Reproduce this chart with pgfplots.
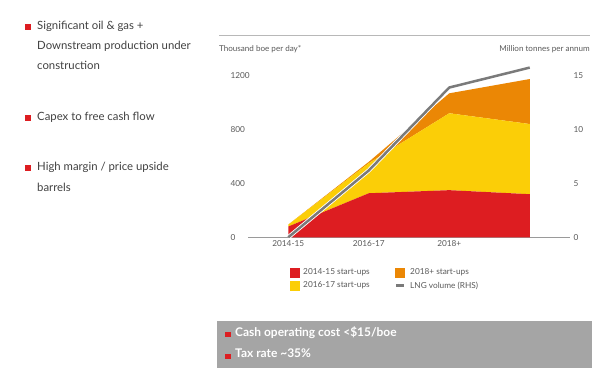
\documentclass[border=0pt]{standalone}
\usepackage{pgfplots}
\pgfplotsset{compat=1.18}
\usepackage{fontspec}
\setmainfont{Lato}
\definecolor{shred}{HTML}{DD1D21}
\definecolor{shyellow}{HTML}{FBCE07}
\definecolor{shorange}{HTML}{EB8705}
\definecolor{lnggray}{HTML}{7A7A7A}
\definecolor{txtgray}{HTML}{404040}
\definecolor{ticktext}{HTML}{595959}
\definecolor{axisgray}{HTML}{9A9A9A}
\definecolor{boxgray}{HTML}{A5A5A5}
\begin{document}
\begin{tikzpicture}[x=1bp,y=1bp]
\path[use as bounding box] (0,0) rectangle (600,373);
% top rule and axis titles
\draw[color=axisgray!70, line width=0.7bp] (219,338) -- (590,338);
\node[anchor=west, inner sep=0, text=ticktext, font=\fontsize{8.1}{9}\selectfont] at (219,324) {Thousand boe per day*};
\node[anchor=east, inner sep=0, text=ticktext, font=\fontsize{8.1}{9}\selectfont] at (590,324) {Million tonnes per annum};
\begin{axis}[
  at={(248bp,135.7bp)}, anchor=south west,
  scale only axis, width=322bp, height=175.1bp,
  xmin=-0.5, xmax=3.5, ymin=0, ymax=1300,
  xtick={0,1,2}, xticklabels={2014-15,2016-17,2018+},
  ytick={0,400,800,1200},
  axis x line*=bottom, axis y line*=left,
  y axis line style={draw=none},
  x axis line style={draw=axisgray, line width=0.7bp},
  major tick length=0pt,
  tick label style={font=\fontsize{8.3}{10}\selectfont, text=ticktext},
  /pgf/number format/assume math mode=true,
  /pgf/number format/1000 sep={},
  yticklabel style={anchor=west, xshift=-21bp},
  stack plots=y,
]
\addplot[fill=shred, draw=none] coordinates {(0,80) (1,327) (2,350) (3,320)} \closedcycle;
\addplot[fill=shyellow, draw=none] coordinates {(0,14) (1,223) (2,571) (3,521)} \closedcycle;
\addplot[fill=shorange, draw=none] coordinates {(0,0) (1,10) (2,148) (3,334)} \closedcycle;
\end{axis}
\begin{axis}[
  at={(248bp,135.7bp)}, anchor=south west,
  scale only axis, width=322bp, height=175.1bp,
  xmin=-0.5, xmax=3.5, ymin=0, ymax=16.25,
  axis x line=none, axis y line*=right,
  y axis line style={draw=none},
  ytick={0,5,10,15},
  major tick length=0pt,
  tick label style={font=\fontsize{8.3}{10}\selectfont, text=ticktext},
  /pgf/number format/assume math mode=true,
]
\addplot[white, line width=4.2bp, line join=round] coordinates {(0,0) (1,6.2) (2,13.9) (3,15.75)};
\addplot[lnggray, line width=2.5bp, line join=round] coordinates {(0,0) (1,6.2) (2,13.9) (3,15.75)};
\end{axis}
% legend
\begin{scope}[every node/.style={anchor=west, inner sep=0, text=ticktext, font=\fontsize{8.3}{10}\selectfont}]
\fill[shred] (290,95) rectangle (300,105);
\node at (303,100.3) {2014-15 start-ups};
\fill[shyellow] (290,82.3) rectangle (300,92.3);
\node at (303,87.3) {2016-17 start-ups};
\fill[shorange] (395,95) rectangle (405,105);
\node at (410,100.3) {2018+ start-ups};
\draw[lnggray, line width=2.5bp] (396,87.3) -- (404,87.3);
\node at (410,87.3) {LNG volume (RHS)};
\end{scope}
% bottom box
\fill[boxgray] (217,5) rectangle (592,52.3);
\fill[shred] (225,35.7) rectangle (230.5,41.3);
\fill[shred] (225,13.7) rectangle (230.5,19.2);
\begin{scope}[every node/.style={anchor=west, inner sep=0, text=white, font=\bfseries\fontsize{12}{14}\selectfont, text height=0.72em, text depth=0.2em}]
\node at (235,39) {Cash operating cost <\$15/boe};
\node at (235,18) {Tax rate \textasciitilde35\%};
\end{scope}
% left bullets
\begin{scope}[every node/.style={anchor=west, inner sep=0, text=txtgray, font=\fontsize{11.4}{14}\selectfont, text height=0.72em, text depth=0.2em}]
\fill[shred] (25,343) rectangle (31,349);
\node at (37,346) {Significant oil \& gas +};
\node at (37,326) {Downstream production under};
\node at (37,306) {construction};
\fill[shred] (25,252) rectangle (31,258);
\node at (37,255) {Capex to free cash flow};
\fill[shred] (25,202) rectangle (31,208);
\node at (37,205) {High margin / price upside};
\node at (37,184) {barrels};
\end{scope}
\end{tikzpicture}
\end{document}
